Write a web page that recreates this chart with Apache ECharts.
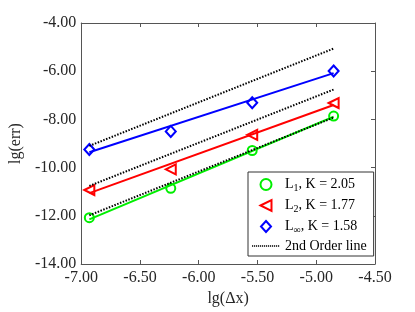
<!DOCTYPE html>
<html>
<head>
<meta charset="utf-8">
<script src="https://cdn.jsdelivr.net/npm/echarts@6/dist/echarts.min.js"></script>
<style>html,body{margin:0;padding:0;background:#fff}#c{width:415px;height:312px}</style>
</head>
<body>
<div id="c"></div>
<script>
// ---- data ----
const xVals = [-6.931, -6.238, -5.545, -4.852];
const l1Err = [-12.08, -10.86, -9.29, -7.86];
const l2Err = [-10.93, -10.07, -8.64, -7.32];
const linfErr = [-9.25, -8.50, -7.31, -5.99];
const fitX = [-6.931, -4.852];
const l1Fit = [-12.15, -7.89];
const l2Fit = [-11.06, -7.40];
const linfFit = [-9.36, -6.08];
const order2Upper = [-9.10, -5.06];
const order2Middle = [-10.76, -6.76];
const order2Lower = [-11.98, -7.92];
const legendSub = {L1: ['1', '2.05'], L2: ['2', '1.77'], Linf: ['\u221E', '1.58']};

const FONT = 'Liberation Serif';
const GREEN = '#00ee00', RED = '#ff0000', BLUE = '#0000ff';
const AX = '#555555';

const pairs = (xs, ys) => xs.map((x, i) => [x, ys[i]]);

function markerSeries(name, ys, color, symbol, size) {
  return {
    type: 'scatter', name, data: pairs(xVals, ys), symbol, symbolSize: size,
    symbolKeepAspect: true,
    itemStyle: {color: 'rgba(0,0,0,0)', borderColor: color, borderWidth: 2, opacity: 1},
    z: 4
  };
}
function fitSeries(name, ys, color) {
  return {type: 'line', name, data: pairs(fitX, ys), symbol: 'none',
    lineStyle: {color, width: 2}, z: 3};
}
function dotSeries(ys) {
  return {type: 'line', name: '2nd Order line', data: pairs(fitX, ys), symbol: 'none',
    itemStyle: {color: '#000'},
    lineStyle: {color: '#000', width: 2, type: [1.5, 1.5]}, z: 5};
}

const triLeft = 'path://M0,5 L10,0 L10,10 Z';
const diamond = 'path://M5,0 L10,5.5 L5,11 L0,5.5 Z';
// dotted legend glyph: a row of small squares (28 x 2 box)
let dotPath = 'path://M0,0 L28,0 L28,0.01 L0,0.01 Z';
for (let i = 0; i < 14; i++) {
  const x0 = i * 2;
  dotPath += ' M' + x0 + ',0 L' + (x0 + 1.2) + ',0 L' + (x0 + 1.2) + ',1.6 L' + x0 + ',1.6 Z';
}

const chart = echarts.init(document.getElementById('c'), null, {renderer: 'canvas'});
chart.setOption({
  animation: false,
  backgroundColor: '#fff',
  grid: {left: 68, right: 40, top: 23, bottom: 44},
  xAxis: [{
    type: 'value', min: -7, max: -4.5, interval: 0.5, position: 'bottom',
    name: 'lg(\u0394x)', nameLocation: 'middle', nameGap: 27,
    nameTextStyle: {fontFamily: FONT, fontSize: 16, color: '#262626'},
    axisLine: {show: true, lineStyle: {color: AX, width: 1}},
    axisTick: {show: true, inside: true, length: 4, lineStyle: {color: AX}},
    axisLabel: {formatter: v => v.toFixed(2), fontFamily: FONT, fontSize: 16, color: '#262626', margin: 6},
    splitLine: {show: false}
  }, {
    type: 'value', min: -7, max: -4.5, interval: 0.5, position: 'top',
    axisLine: {show: true, lineStyle: {color: AX, width: 1}},
    axisTick: {show: true, inside: true, length: 4, lineStyle: {color: AX}},
    axisLabel: {show: false}, splitLine: {show: false}
  }],
  yAxis: [{
    type: 'value', min: -14, max: -4, interval: 2, position: 'left',
    name: 'lg(err)', nameLocation: 'middle', nameGap: 51,
    nameTextStyle: {fontFamily: FONT, fontSize: 16, color: '#262626'},
    axisLine: {show: true, lineStyle: {color: AX, width: 1}},
    axisTick: {show: false},
    axisLabel: {formatter: v => v.toFixed(2), fontFamily: FONT, fontSize: 16, color: '#262626', margin: 5},
    splitLine: {show: false}
  }, {
    type: 'value', min: -14, max: -4, interval: 2, position: 'right',
    axisLine: {show: true, lineStyle: {color: AX, width: 1}},
    axisTick: {show: true, inside: true, length: 4, lineStyle: {color: AX}},
    axisLabel: {show: false}, splitLine: {show: false}
  }],
  legend: {
    orient: 'vertical', left: 248, top: 172,
    backgroundColor: '#fff', borderColor: '#333', borderWidth: 1, borderRadius: 0,
    padding: [4, 7, 3, 4], itemGap: 4, itemWidth: 28, itemHeight: 11,
    symbolKeepAspect: true,
    data: [
      {name: 'L1', icon: 'circle', itemStyle: {color: 'rgba(0,0,0,0)', borderColor: GREEN, borderWidth: 2}},
      {name: 'L2', icon: triLeft, itemStyle: {color: 'rgba(0,0,0,0)', borderColor: RED, borderWidth: 2}},
      {name: 'Linf', icon: diamond, itemStyle: {color: 'rgba(0,0,0,0)', borderColor: BLUE, borderWidth: 2}},
      {name: '2nd Order line', icon: dotPath, itemStyle: {color: '#000', borderWidth: 0}}
    ],
    formatter: function (n) {
      if (legendSub[n]) return '{n|L}{s|' + legendSub[n][0] + '}{n|, K = ' + legendSub[n][1] + '}';
      return '{n|' + n + '}';
    },
    textStyle: {
      fontFamily: FONT, fontSize: 14, color: '#000',
      rich: {
        n: {fontFamily: FONT, fontSize: 14, color: '#000', lineHeight: 18},
        s: {fontFamily: FONT, fontSize: 10, color: '#000', padding: [7, 0, 0, 0], lineHeight: 18}
      }
    }
  },
  series: [
    fitSeries('fit1', l1Fit, GREEN),
    fitSeries('fit2', l2Fit, RED),
    fitSeries('fitInf', linfFit, BLUE),
    markerSeries('L1', l1Err, GREEN, 'circle', 9),
    markerSeries('L2', l2Err, RED, triLeft, 10),
    markerSeries('Linf', linfErr, BLUE, diamond, 11),
    dotSeries(order2Upper),
    dotSeries(order2Middle),
    dotSeries(order2Lower)
  ]
});
</script>
</body>
</html>
